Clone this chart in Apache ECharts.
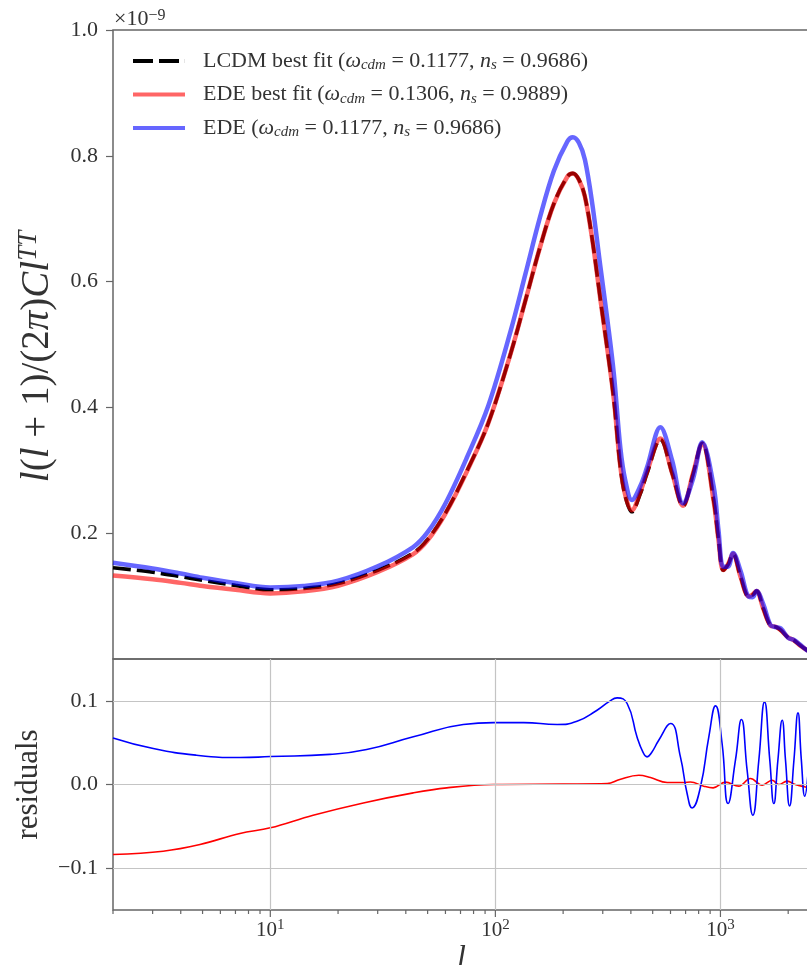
<!DOCTYPE html>
<html>
<head>
<meta charset="utf-8">
<script src="https://cdn.jsdelivr.net/npm/echarts@6/dist/echarts.min.js"></script>
<style>
  html, body { margin: 0; padding: 0; background: #fff; }
  #chart { width: 807px; height: 965px; }
</style>
</head>
<body>
<div id="chart"></div>
<script>
// Multipole samples for the TT spectra (upper panel), in units of 1e-9
const ellTT = [2, 3, 4, 5, 7, 10, 14, 20, 30, 43, 50, 60, 75, 93, 117, 136, 158, 182, 209, 221,
  235, 250, 270, 293, 315, 336, 359, 378, 404, 440, 472, 541, 610, 682, 756, 830, 933, 980,
  1029, 1080, 1137, 1230, 1336, 1390, 1446, 1550, 1668, 1760, 1850, 2000, 2113, 2250, 2425, 2500];

const lcdmBest = [0.145, 0.138, 0.131, 0.125, 0.117, 0.110, 0.112, 0.120, 0.141, 0.168, 0.190,
  0.232, 0.300, 0.375, 0.486, 0.570, 0.655, 0.724, 0.767, 0.772, 0.762, 0.735, 0.665, 0.571,
  0.490, 0.412, 0.305, 0.258, 0.234, 0.262, 0.295, 0.349, 0.295, 0.243, 0.295, 0.343, 0.252,
  0.190, 0.141, 0.150, 0.167, 0.130, 0.099, 0.102, 0.108, 0.080, 0.053, 0.051, 0.046, 0.034,
  0.030, 0.022, 0.014, 0.012];

const edeBest = [0.1329, 0.1268, 0.1210, 0.1161, 0.1100, 0.1043, 0.1075, 0.1165, 0.1383, 0.1663,
  0.1885, 0.2311, 0.2994, 0.375, 0.486, 0.570, 0.655, 0.724, 0.767, 0.772, 0.762, 0.735, 0.665,
  0.571, 0.4905, 0.4132, 0.3068, 0.2601, 0.2363, 0.2649, 0.2977, 0.3504, 0.2957, 0.2436, 0.2956,
  0.3427, 0.2510, 0.1898, 0.1413, 0.1504, 0.1672, 0.1299, 0.0996, 0.1026, 0.1083, 0.0800, 0.0532,
  0.0512, 0.0460, 0.0341, 0.0300, 0.0220, 0.0140, 0.0120];

const edeSame = [0.1531, 0.1439, 0.1360, 0.1293, 0.1208, 0.1137, 0.1159, 0.1244, 0.1472, 0.1776,
  0.2016, 0.2473, 0.3216, 0.4026, 0.5220, 0.6122, 0.7028, 0.7761, 0.8230, 0.8295, 0.8207, 0.7938,
  0.7215, 0.6230, 0.5375, 0.4536, 0.3364, 0.2835, 0.2527, 0.2746, 0.3047, 0.3685, 0.3157, 0.2474,
  0.2870, 0.3447, 0.2742, 0.2052, 0.1466, 0.1467, 0.1687, 0.1396, 0.0990, 0.0983, 0.1080, 0.0872,
  0.0541, 0.0505, 0.0488, 0.0335, 0.0308, 0.0233, 0.0139, 0.0126];

// Residuals of the EDE model with LCDM parameters (blue)
const ellResSame = [2, 3.02, 4.7, 7.33, 10, 18.4, 26.8, 43.2, 72, 98, 133.6, 188, 230.5, 283, 320, 347.5,
  385, 426, 452, 472, 494, 532, 600, 664, 711, 748, 815, 888, 951, 1017, 1081, 1166, 1240, 1314, 1393,
  1481, 1570, 1657, 1727, 1800, 1881, 1946, 2029, 2121, 2211, 2287, 2368, 2500];
const resSame = [0.0557, 0.043, 0.035, 0.0322, 0.0334, 0.036, 0.0418, 0.057, 0.0717, 0.074, 0.074,
  0.0717, 0.0756, 0.0888, 0.099, 0.1035, 0.0968, 0.0569, 0.039, 0.033, 0.038, 0.0529, 0.0729, 0.033,
  -0.0108, -0.028, -0.003, 0.057, 0.094, 0.049, -0.0227, 0.029, 0.0776, 0.017, -0.0367, 0.029, 0.0987,
  0.029, -0.0227, 0.029, 0.0768, 0.029, -0.0256, 0.029, 0.0856, 0.030, -0.014, 0.050];

// Residuals of the EDE best fit (red)
const ellResBest = [2, 3.34, 4.87, 7.33, 10, 15.5, 25.9, 43.2, 60.8, 98, 200, 314, 357, 434, 489, 580,
  688, 735, 843, 928, 1052, 1206, 1359, 1533, 1697, 1817, 1979, 2150, 2387, 2500];
const resBest = [-0.0836, -0.0797, -0.0717, -0.0585, -0.0518, -0.0367, -0.022, -0.010, -0.004, 0.0,
  0.0005, 0.001, 0.006, 0.011, 0.0083, 0.0024, 0.0024, 0.003, -0.002, -0.004, 0.0028, -0.002, 0.0071,
  -0.0008, 0.005, 0.0, 0.004, 0.0, -0.003, -0.004];

// Axis decorations
const topTicks = [0.2, 0.4, 0.6, 0.8, 1.0];
const resTicks = [-0.1, 0.0, 0.1];
const decades = [10, 100, 1000];
const minorTicks = [2, 3, 4, 5, 6, 7, 8, 9, 20, 30, 40, 50, 60, 70, 80, 90,
  200, 300, 400, 500, 600, 700, 800, 900, 2000];

const FONT = "'Liberation Serif','DejaVu Serif',serif";
const TXT = '#333';
const AX = '#666';

const legendText = {
  'LCDM best fit': '{t|LCDM best fit (}{i|ω}{sub|cdm}{t| = 0.1177, }{i|n}{sub|s}{t| = 0.9686)}',
  'EDE best fit': '{t|EDE best fit (}{i|ω}{sub|cdm}{t| = 0.1306, }{i|n}{sub|s}{t| = 0.9889)}',
  'EDE': '{t|EDE (}{i|ω}{sub|cdm}{t| = 0.1177, }{i|n}{sub|s}{t| = 0.9686)}'
};

const zip = (xs, ys) => xs.map((x, i) => [x, ys[i]]);

const chart = echarts.init(document.getElementById('chart'), null, { renderer: 'canvas' });

const option = {
  animation: false,
  backgroundColor: '#fff',
  grid: [
    { left: 113, top: 30, width: 697, height: 629, show: true, borderColor: AX, borderWidth: 1.5,
      backgroundColor: 'transparent', outerBoundsMode: 'none', containLabel: false },
    { left: 113, top: 659, width: 697, height: 251, show: true, borderColor: AX, borderWidth: 1.5,
      backgroundColor: 'transparent', outerBoundsMode: 'none', containLabel: false }
  ],
  graphic: [{
    type: 'text', left: 114, top: 8,
    style: {
      text: '×10{sup|−9}',
      fontFamily: FONT, fontSize: 22, fill: TXT,
      rich: { sup: { fontFamily: FONT, fontSize: 16, fill: TXT, verticalAlign: 'top', lineHeight: 15 } }
    }
  }],
  legend: {
    orient: 'vertical', left: 133, top: 49, padding: 0, itemGap: 9.5,
    itemWidth: 52, itemHeight: 4,
    selectedMode: false,
    data: [
      { name: 'LCDM best fit', icon: 'path://M0,0H20V4H0Z M26,0H46V4H26Z M51.9,0H52V4H51.9Z',
        itemStyle: { color: '#000' } },
      { name: 'EDE best fit', icon: 'rect', itemStyle: { color: 'rgba(255,0,0,0.6)' } },
      { name: 'EDE', icon: 'rect', itemStyle: { color: 'rgba(0,0,255,0.6)' } }
    ],
    formatter: name => '{pad|}' + legendText[name],
    textStyle: {
      fontFamily: FONT, fontSize: 22, color: TXT, lineHeight: 24,
      rich: {
        pad: { width: 13 },
        t: { fontFamily: FONT, fontSize: 22, color: TXT },
        i: { fontFamily: FONT, fontSize: 22, fontStyle: 'italic', color: TXT },
        sub: { fontFamily: FONT, fontSize: 15, fontStyle: 'italic', color: TXT, verticalAlign: 'bottom', lineHeight: 13 }
      }
    }
  },
  xAxis: [
    { type: 'log', logBase: 10, min: 2, max: 2500, gridIndex: 0,
      axisLine: { show: false }, axisTick: { show: false }, axisLabel: { show: false },
      splitLine: { show: false } },
    { type: 'log', logBase: 10, min: 2, max: 2500, gridIndex: 1,
      axisLine: { show: false }, axisTick: { show: false }, splitLine: { show: false },
      axisLabel: {
        margin: 8,
        formatter: v => {
          const e = Math.log10(v);
          if (Math.abs(e - Math.round(e)) > 1e-6 || v < 5 || v > 2400) return '';
          return '10{sup|' + Math.round(e) + '}';
        },
        fontFamily: FONT, fontSize: 21, color: TXT, lineHeight: 24,
        rich: { sup: { fontFamily: FONT, fontSize: 15, color: TXT, verticalAlign: 'top', lineHeight: 14 } }
      },
      name: 'l', nameLocation: 'middle', nameGap: 27,
      nameTextStyle: { fontFamily: FONT, fontSize: 32, fontStyle: 'italic', color: TXT }
    }
  ],
  yAxis: [
    { type: 'value', min: 0, max: 1.0, interval: 0.2, gridIndex: 0,
      axisLine: { show: false }, splitLine: { show: false },
      axisTick: { show: true, length: 7, lineStyle: { color: AX, width: 1.2 }, customValues: topTicks },
      axisLabel: { customValues: topTicks, margin: 15, fontFamily: FONT, fontSize: 22, color: TXT,
        formatter: v => v.toFixed(1) },
      name: '{i|l}({i|l} + 1)/(2{i|π}){i|Cl}{sup|TT}',
      nameLocation: 'middle', nameRotate: 90, nameGap: 43,
      nameTextStyle: {
        fontFamily: FONT, fontSize: 39, color: TXT, lineHeight: 44, padding: [0, 24, 0, 0],
        rich: {
          i: { fontFamily: FONT, fontSize: 39, fontStyle: 'italic', color: TXT },
          sup: { fontFamily: FONT, fontSize: 27, fontStyle: 'italic', color: TXT, verticalAlign: 'top', lineHeight: 26 }
        }
      }
    },
    { type: 'value', min: -0.15, max: 0.15, gridIndex: 1,
      axisLine: { show: false }, splitLine: { show: false },
      axisTick: { show: true, length: 7, lineStyle: { color: AX, width: 1.2 }, customValues: resTicks },
      axisLabel: { customValues: resTicks, margin: 15, fontFamily: FONT, fontSize: 22, color: TXT,
        formatter: v => (v < -1e-9 ? '−' : '') + Math.abs(v).toFixed(1) },
      name: 'residuals', nameLocation: 'middle', nameRotate: 90, nameGap: 69,
      nameTextStyle: { fontFamily: FONT, fontSize: 31, color: TXT }
    }
  ],
  series: [
    { name: 'LCDM best fit', type: 'line', xAxisIndex: 0, yAxisIndex: 0, z: 2,
      data: zip(ellTT, lcdmBest), symbol: 'none', smooth: 0.35,
      itemStyle: { color: '#000' },
      lineStyle: { color: '#000', width: 3.6, type: [18, 6] },
      emphasis: { disabled: true } },
    { name: 'EDE best fit', type: 'line', xAxisIndex: 0, yAxisIndex: 0, z: 3,
      data: zip(ellTT, edeBest), symbol: 'none', smooth: 0.35,
      itemStyle: { color: 'rgba(255,0,0,0.6)' },
      lineStyle: { color: 'rgba(255,0,0,0.6)', width: 4.5 },
      emphasis: { disabled: true } },
    { name: 'EDE', type: 'line', xAxisIndex: 0, yAxisIndex: 0, z: 4,
      data: zip(ellTT, edeSame), symbol: 'none', smooth: 0.35,
      itemStyle: { color: 'rgba(0,0,255,0.6)' },
      lineStyle: { color: 'rgba(0,0,255,0.6)', width: 4.5 },
      emphasis: { disabled: true } },
    // light grid of the residual panel
    { name: 'grid', type: 'line', xAxisIndex: 1, yAxisIndex: 1, z: 1, data: [], silent: true,
      markLine: {
        silent: true, symbol: ['none', 'none'], label: { show: false },
        lineStyle: { color: '#c4c4c4', width: 1.2, type: 'solid' },
        emphasis: { disabled: true },
        data: resTicks.map(v => ({ yAxis: v })).concat(decades.map(v => ({ xAxis: v })))
      } },
    { name: 'res EDE best fit', type: 'line', xAxisIndex: 1, yAxisIndex: 1, z: 3,
      data: zip(ellResBest, resBest), symbol: 'none', smooth: 0.4,
      lineStyle: { color: '#ff0000', width: 1.6 }, emphasis: { disabled: true } },
    { name: 'res EDE', type: 'line', xAxisIndex: 1, yAxisIndex: 1, z: 4,
      data: zip(ellResSame, resSame), symbol: 'none', smooth: 0.5,
      lineStyle: { color: '#0000ff', width: 1.6 }, emphasis: { disabled: true } },
    // log-axis major and minor ticks below the residual panel
    { name: 'ticks', type: 'custom', xAxisIndex: 1, yAxisIndex: 1, z: 5, clip: false, silent: true,
      data: minorTicks.map(v => [v, 0]).concat(decades.map(v => [v, 1])),
      renderItem: (params, api) => {
        const p = api.coord([api.value(0), -0.15]);
        const len = api.value(1) ? 7 : 4;
        return { type: 'line', shape: { x1: p[0], y1: p[1], x2: p[0], y2: p[1] + len },
          style: { stroke: AX, lineWidth: 1.2 } };
      } }
  ]
};

chart.setOption(option);
</script>
</body>
</html>
